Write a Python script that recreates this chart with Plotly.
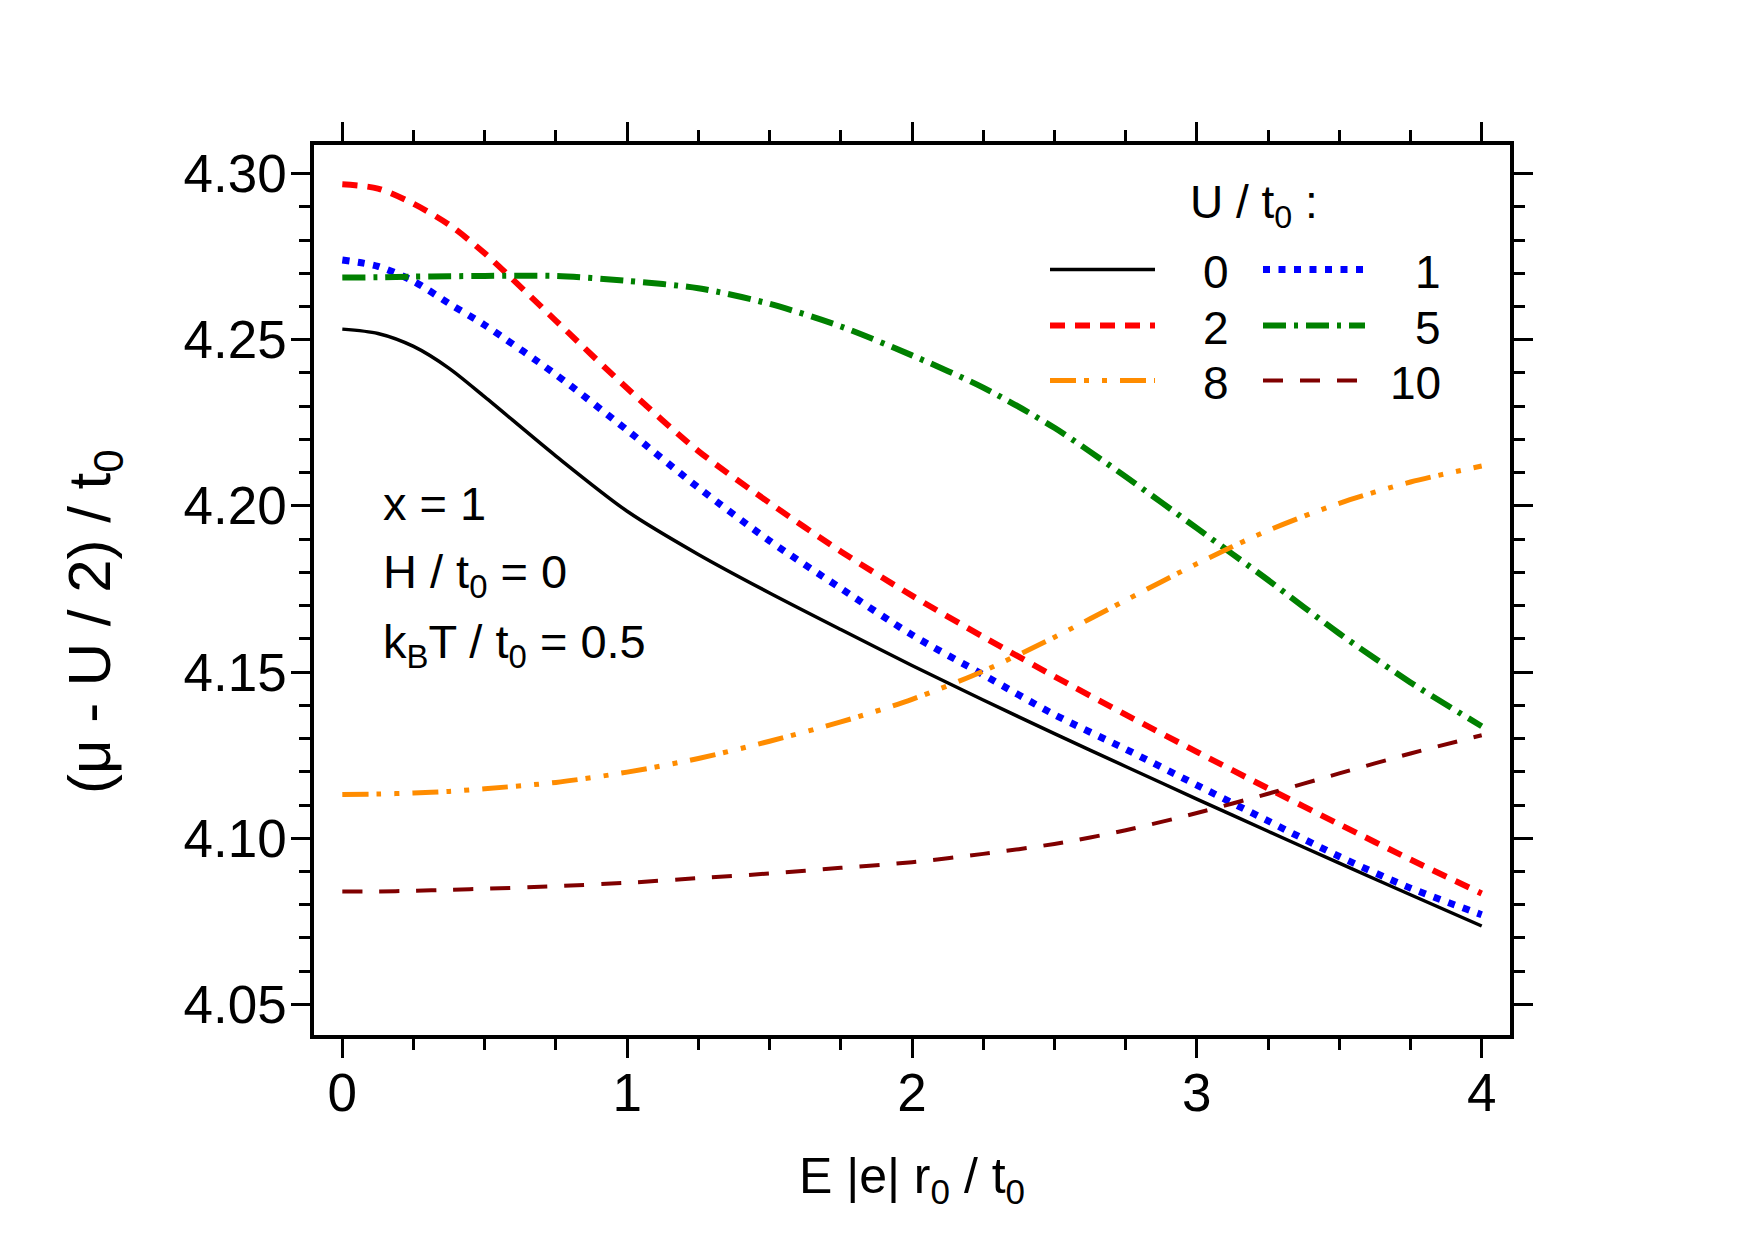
import plotly.graph_objects as go

# ---------------- data ----------------
E = [0.0, 0.125, 0.25, 0.375, 0.5, 0.75, 1.0, 1.25, 1.5, 1.75, 2.0, 2.25, 2.5, 2.75,
     3.0, 3.25, 3.5, 3.75, 4.0]

mu_U0 = [4.2532, 4.2519, 4.2480, 4.2414, 4.2328, 4.2150, 4.1984, 4.1854, 4.1738, 4.1628,
         4.1520, 4.1416, 4.1315, 4.1216, 4.1118, 4.1021, 4.0925, 4.0830, 4.0736]
mu_U1 = [4.2740, 4.2721, 4.2676, 4.2609, 4.2544, 4.2395, 4.2228, 4.2055, 4.1895, 4.1752,
         4.1612, 4.1492, 4.1372, 4.1268, 4.1160, 4.1052, 4.0945, 4.0850, 4.0770]
mu_U2 = [4.2968, 4.2955, 4.2909, 4.2846, 4.2760, 4.2557, 4.2354, 4.2165, 4.2009, 4.1863,
         4.1730, 4.1606, 4.1487, 4.1372, 4.1260, 4.1150, 4.1042, 4.0936, 4.0834]
mu_U5 = [4.2687, 4.2688, 4.2690, 4.2691, 4.2692, 4.2692, 4.2677, 4.2655, 4.2608, 4.2540,
         4.2453, 4.2356, 4.2235, 4.2088, 4.1933, 4.1777, 4.1616, 4.1469, 4.1337]
mu_U8 = [4.1132, 4.1133, 4.1136, 4.1141, 4.1149, 4.1168, 4.1199, 4.1240, 4.1292, 4.1350,
         4.1418, 4.1503, 4.1605, 4.1716, 4.1826, 4.1926, 4.2008, 4.2072, 4.2120]
mu_U10 = [4.0840, 4.0840, 4.0842, 4.0845, 4.0848, 4.0856, 4.0866, 4.0880, 4.0894, 4.0911,
          4.0928, 4.0953, 4.0983, 4.1024, 4.1076, 4.1134, 4.1195, 4.1255, 4.1310]

U_labels = ["0", "1", "2", "5", "8", "10"]
series = [mu_U0, mu_U1, mu_U2, mu_U5, mu_U8, mu_U10]

x_ticks = [0, 1, 2, 3, 4]
y_ticks = [4.05, 4.10, 4.15, 4.20, 4.25, 4.30]
y_tick_text = ["4.05", "4.10", "4.15", "4.20", "4.25", "4.30"]

# ---------------- styles ----------------
FONT = "Liberation Sans, Arial, sans-serif"
styles = {
    "0": dict(color="#000000", width=3.5, dash="solid"),
    "1": dict(color="#0000FF", width=7, dash="7px,8.5px"),
    "2": dict(color="#FF0000", width=6, dash="15px,10px"),
    "5": dict(color="#008000", width=6, dash="23px,8px,4px,8px"),
    "8": dict(color="#FF8C00", width=5, dash="26px,8px,5px,13px,5px,13px"),
    "10": dict(color="#800000", width=4, dash="20px,17px"),
}

# plot area in pixels
W, H = 1755, 1242
L, R, T, B = 314, 1510, 145, 1035
PW, PH = R - L, B - T


def px(x):
    return (x - L) / PW


def py(y):
    return (B - y) / PH


fig = go.Figure()
for lab, ys in zip(U_labels, series):
    st = styles[lab]
    fig.add_trace(go.Scatter(
        x=E, y=ys, mode="lines", name=lab, showlegend=False,
        line=dict(color=st["color"], width=st["width"], dash=st["dash"],
                  shape="spline", smoothing=0.8),
    ))

axis_common = dict(
    showline=True, linecolor="black", linewidth=3.5, mirror="ticks",
    ticks="outside", ticklen=19, tickwidth=3, tickcolor="black",
    showgrid=False, zeroline=False,
    tickfont=dict(family=FONT, size=53, color="black"),
)

fig.update_xaxes(
    range=[-0.0994, 4.0994], tickvals=x_ticks, ticklabelstandoff=-10,
    minor=dict(dtick=0.25, tick0=0, ticklen=11, tickwidth=3, ticks="outside", tickcolor="black"),
    title=dict(text="E |e| r<sub>0</sub> / t<sub>0</sub>",
               font=dict(family=FONT, size=50, color="black"), standoff=38),
    **axis_common,
)
fig.update_yaxes(
    range=[4.0408, 4.3086], tickvals=y_ticks, ticktext=y_tick_text, ticklabelstandoff=-6,
    minor=dict(dtick=0.01, tick0=4.0, ticklen=11, tickwidth=3, ticks="outside", tickcolor="black"),
    **axis_common,
)

annotations = []
# y axis title
annotations.append(dict(
    text="(μ - U / 2) / t<sub>0</sub>", xref="paper", yref="paper",
    x=px(94), y=py(622), xanchor="center", yanchor="middle", textangle=-90,
    showarrow=False, font=dict(family=FONT, size=60, color="black"),
))
# parameter text
for txt, yy in [("x = 1", 503), ("H / t<sub>0</sub> = 0", 575), ("k<sub>B</sub>T / t<sub>0</sub> = 0.5", 645)]:
    annotations.append(dict(
        text=txt, xref="paper", yref="paper", x=px(381), y=py(yy),
        xanchor="left", yanchor="middle", showarrow=False,
        font=dict(family=FONT, size=47, color="black"),
    ))

# legend (two columns)
annotations.append(dict(
    text="U / t<sub>0</sub> :", xref="paper", yref="paper", x=px(1188), y=py(205),
    xanchor="left", yanchor="middle", showarrow=False,
    font=dict(family=FONT, size=46, color="black"),
))
legend_layout = [("0", 0, 0), ("1", 1, 0), ("2", 0, 1), ("5", 1, 1), ("8", 0, 2), ("10", 1, 2)]
row_y = [269.5, 325.5, 380.5]
col_x = [(1050, 1155), (1263, 1365)]
shapes = []
for lab, c, r in legend_layout:
    st = styles[lab]
    x0, x1 = col_x[c]
    shapes.append(dict(
        type="line", xref="paper", yref="paper",
        x0=px(x0), x1=px(x1), y0=py(row_y[r]), y1=py(row_y[r]),
        line=dict(color=st["color"], width=st["width"], dash=st["dash"]),
    ))
    if c == 0:
        annotations.append(dict(text=lab, xref="paper", yref="paper", x=px(1216), y=py(row_y[r] + 2),
                                xanchor="center", yanchor="middle", showarrow=False,
                                font=dict(family=FONT, size=46, color="black")))
    else:
        annotations.append(dict(text=lab, xref="paper", yref="paper", x=px(1443), y=py(row_y[r] + 2),
                                xanchor="right", yanchor="middle", showarrow=False,
                                font=dict(family=FONT, size=46, color="black")))

fig.update_layout(
    width=W, height=H,
    margin=dict(l=L, r=W - R, t=T, b=H - B),
    paper_bgcolor="white", plot_bgcolor="white",
    showlegend=False,
    annotations=annotations, shapes=shapes,
    font=dict(family=FONT, color="black"),
)

fig.write_html("out.html")
